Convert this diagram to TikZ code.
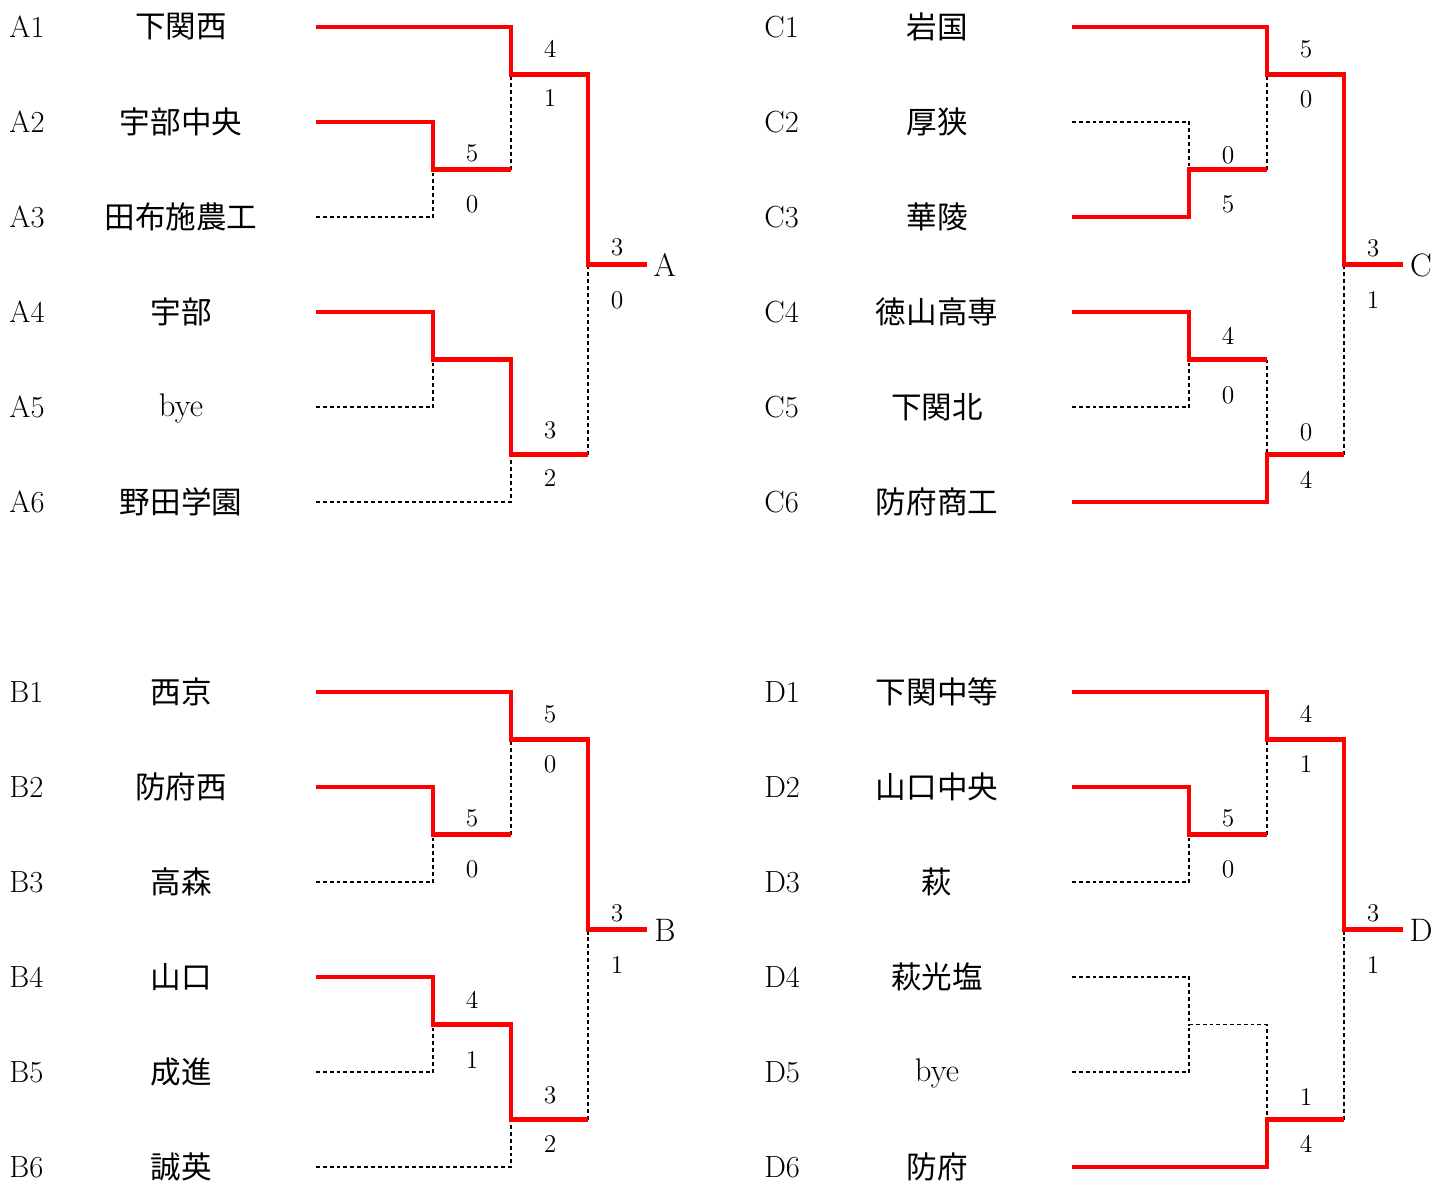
\documentclass[tikz,border=0pt]{standalone}
\usepackage{fontspec}
\newfontfamily\jpfont{Noto Sans CJK JP}
\usepackage{tikz}

\begin{document}
\begin{tikzpicture}[x=0.02cm, y=-0.02cm,
  win/.style={red, line width=2.3pt},
  lose/.style={black, line width=0.9pt, dash pattern=on 2.2pt off 1.7pt},
  seed/.style={anchor=west, inner sep=0pt, font=\fontsize{17.4}{20}\selectfont},
  team/.style={inner sep=0pt, font=\jpfont\fontsize{17.4}{20}\selectfont},
  bye/.style={inner sep=0pt, font=\fontsize{18.6}{20}\selectfont},
  score/.style={inner sep=0pt, font=\fontsize{14.5}{16}\selectfont},
  block/.style={inner sep=0pt, font=\fontsize{18.5}{20}\selectfont}]
\useasboundingbox (0,0) rectangle (1434,1183);

% Block A
\node[seed] (A1) at (9,27) {A1};
\node[seed] (A2) at (9,122) {A2};
\node[seed] (A3) at (9,217) {A3};
\node[seed] (A4) at (9,312) {A4};
\node[seed] (A5) at (9,407) {A5};
\node[seed] (A6) at (9,502) {A6};
\node[team] (A1t) at (181,27) {下関西};
\node[team] (A2t) at (181,122) {宇部中央};
\node[team] (A3t) at (181,217) {田布施農工};
\node[team] (A4t) at (181,312) {宇部};
\node[bye] (A5t) at (181,408) {bye};
\node[team] (A6t) at (181,502) {野田学園};

\draw[lose] (316,217) -| (433,169.5);
\draw[lose] (511,169.5) -- (511,74.5);
\draw[lose] (316,407) -| (433,359.5);
\draw[lose] (316,502) -| (511,454.5);
\draw[lose] (588,454.5) -- (588,264.5);
\draw[win] (316,27) -| (511,74.5) -| (588,264.5) -- (647,264.5);
\draw[win] (316,122) -| (433,169.5) -- (511,169.5);
\draw[win] (316,312) -| (433,359.5) -| (511,454.5) -- (588,454.5);

\node[score] (sa1) at (472,153) {5};
\node[score] (sa2) at (472,204) {0};
\node[score] (sa3) at (550,49) {4};
\node[score] (sa4) at (550,98) {1};
\node[score] (sa5) at (617,247) {3};
\node[score] (sa6) at (617,300) {0};
\node[score] (sa7) at (550,430) {3};
\node[score] (sa8) at (550,478) {2};
\node[block] (A) at (665,265) {A};

% Block B
\node[seed] (B1) at (9,692) {B1};
\node[seed] (B2) at (9,787) {B2};
\node[seed] (B3) at (9,882) {B3};
\node[seed] (B4) at (9,977) {B4};
\node[seed] (B5) at (9,1072) {B5};
\node[seed] (B6) at (9,1167) {B6};
\node[team] (B1t) at (181,692) {西京};
\node[team] (B2t) at (181,787) {防府西};
\node[team] (B3t) at (181,882) {高森};
\node[team] (B4t) at (181,977) {山口};
\node[team] (B5t) at (181,1072) {成進};
\node[team] (B6t) at (181,1167) {誠英};

\draw[lose] (316,882) -| (433,834.5);
\draw[lose] (511,834.5) -- (511,739.5);
\draw[lose] (316,1072) -| (433,1024.5);
\draw[lose] (316,1167) -| (511,1119.5);
\draw[lose] (588,1119.5) -- (588,929.5);
\draw[win] (316,692) -| (511,739.5) -| (588,929.5) -- (647,929.5);
\draw[win] (316,787) -| (433,834.5) -- (511,834.5);
\draw[win] (316,977) -| (433,1024.5) -| (511,1119.5) -- (588,1119.5);

\node[score] (sb1) at (472,818) {5};
\node[score] (sb2) at (472,869) {0};
\node[score] (sb3) at (550,714) {5};
\node[score] (sb4) at (550,764) {0};
\node[score] (sb5) at (617,913) {3};
\node[score] (sb6) at (617,965) {1};
\node[score] (sb7) at (472,1000) {4};
\node[score] (sb8) at (472,1060) {1};
\node[score] (sb9) at (550,1095) {3};
\node[score] (sb10) at (550,1144) {2};
\node[block] (B) at (665,930) {B};

% Block C
\node[seed] (C1) at (764,27) {C1};
\node[seed] (C2) at (764,122) {C2};
\node[seed] (C3) at (764,217) {C3};
\node[seed] (C4) at (764,312) {C4};
\node[seed] (C5) at (764,407) {C5};
\node[seed] (C6) at (764,502) {C6};
\node[team] (C1t) at (937,27) {岩国};
\node[team] (C2t) at (937,122) {厚狭};
\node[team] (C3t) at (937,217) {華陵};
\node[team] (C4t) at (937,312) {徳山高専};
\node[team] (C5t) at (937,407) {下関北};
\node[team] (C6t) at (937,502) {防府商工};

\draw[lose] (1072,122) -| (1189,169.5);
\draw[lose] (1267,169.5) -- (1267,74.5);
\draw[lose] (1072,407) -| (1189,359.5);
\draw[lose] (1267,359.5) -- (1267,454.5);
\draw[lose] (1344,454.5) -- (1344,264.5);
\draw[win] (1072,27) -| (1267,74.5) -| (1344,264.5) -- (1403,264.5);
\draw[win] (1072,217) -| (1189,169.5) -- (1267,169.5);
\draw[win] (1072,312) -| (1189,359.5) -- (1267,359.5);
\draw[win] (1072,502) -| (1267,454.5) -- (1344,454.5);

\node[score] (sc1) at (1228,155) {0};
\node[score] (sc2) at (1228,204) {5};
\node[score] (sc3) at (1306,49) {5};
\node[score] (sc4) at (1306,99) {0};
\node[score] (sc5) at (1373,248) {3};
\node[score] (sc6) at (1373,300) {1};
\node[score] (sc7) at (1228,336) {4};
\node[score] (sc8) at (1228,395) {0};
\node[score] (sc9) at (1306,432) {0};
\node[score] (sc10) at (1306,480) {4};
\node[block] (C) at (1421,265) {C};

% Block D
\node[seed] (D1) at (764,692) {D1};
\node[seed] (D2) at (764,787) {D2};
\node[seed] (D3) at (764,882) {D3};
\node[seed] (D4) at (764,977) {D4};
\node[seed] (D5) at (764,1072) {D5};
\node[seed] (D6) at (764,1167) {D6};
\node[team] (D1t) at (937,692) {下関中等};
\node[team] (D2t) at (937,787) {山口中央};
\node[team] (D3t) at (937,882) {萩};
\node[team] (D4t) at (937,977) {萩光塩};
\node[bye] (D5t) at (937,1073) {bye};
\node[team] (D6t) at (937,1167) {防府};

\draw[lose] (1072,882) -| (1189,834.5);
\draw[lose] (1267,834.5) -- (1267,739.5);
\draw[lose] (1072,977) -| (1189,1024.5) -- (1267,1024.5) -- (1267,1119.5);
\draw[lose] (1072,1072) -| (1189,1024.5);
\draw[lose] (1344,1119.5) -- (1344,929.5);
\draw[win] (1072,692) -| (1267,739.5) -| (1344,929.5) -- (1403,929.5);
\draw[win] (1072,787) -| (1189,834.5) -- (1267,834.5);
\draw[win] (1072,1167) -| (1267,1119.5) -- (1344,1119.5);

\node[score] (sd1) at (1228,818) {5};
\node[score] (sd2) at (1228,869) {0};
\node[score] (sd3) at (1306,714) {4};
\node[score] (sd4) at (1306,764) {1};
\node[score] (sd5) at (1373,913) {3};
\node[score] (sd6) at (1373,965) {1};
\node[score] (sd7) at (1306,1097) {1};
\node[score] (sd8) at (1306,1144) {4};
\node[block] (D) at (1421,930) {D};
\end{tikzpicture}
\end{document}
